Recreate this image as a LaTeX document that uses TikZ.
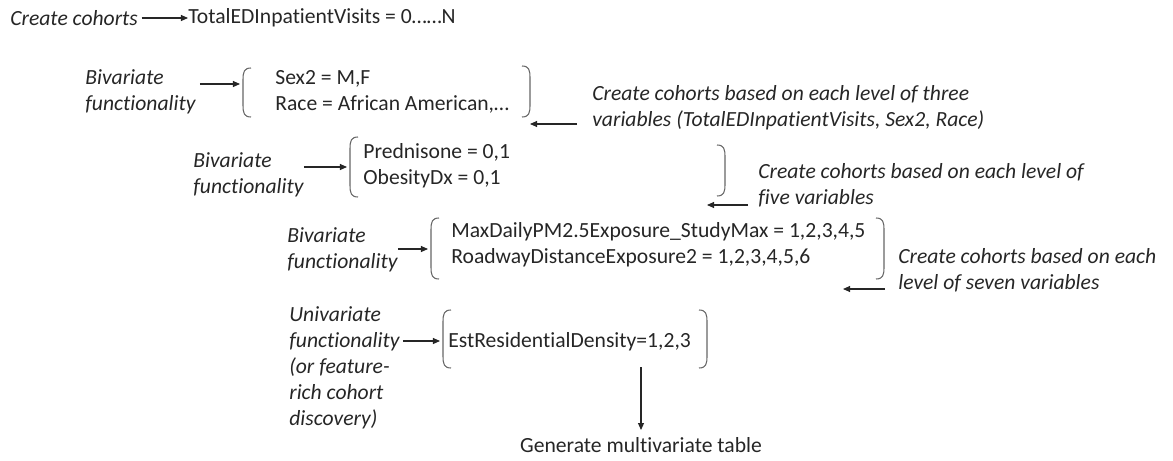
\documentclass[tikz,border=0pt]{standalone}
\usepackage{fontspec}
\setmainfont{Carlito}[Ligatures=NoCommon]
\usetikzlibrary{arrows.meta}
\newcommand{\figfont}{\fontsize{12.3}{14.8}\selectfont}
\tikzset{
	lbl/.style={anchor=west,inner sep=0pt,align=left,text=black!85,font=\figfont\itshape},
	val/.style={anchor=west,inner sep=0pt,align=left,text=black!85,font=\figfont},
	brk/.style={draw=black!60,line width=0.6pt},
	link/.style={draw=black!85,line width=0.6pt,-{Triangle[length=4pt,width=3.4pt]}},
}
% brackets round a group of values: x, top, bottom
\newcommand{\openbr}[3]{\draw[brk] (#1+8,#2) .. controls (#1+1,#2) and (#1,#2+4) .. (#1,#2+12) -- (#1,#3-12) .. controls (#1,#3-4) and (#1+1,#3) .. (#1+8,#3);}
\newcommand{\closebr}[3]{\draw[brk] (#1-8,#2) .. controls (#1-1,#2) and (#1,#2+4) .. (#1,#2+12) -- (#1,#3-12) .. controls (#1,#3-4) and (#1-1,#3) .. (#1-8,#3);}

\begin{document}
\begin{tikzpicture}[x=0.02cm,y=-0.02cm]
	\useasboundingbox (0,0) rectangle (1173,460);
	
	% first cohorts
	\node[lbl] (cc) at (10,18) {Create cohorts};
	\node[val] (total) at (188,18) {TotalEDInpatientVisits = 0……N};
	\draw[link,shorten <=2pt] (cc) -- (total);
	
	% bivariate: sex and race
	\node[lbl] (biv1) at (85,92) {Bivariate\\functionality};
	\node[val] (grp1) at (275,92) {Sex2 = M,F\\Race = African American,…};
	\openbr{243}{68}{117}
	\closebr{530}{66}{117}
	\coordinate (in1) at (240,84);
	\draw[link,shorten <=0.08cm] (biv1.east |- in1) -- (in1);
	
	\node[lbl] (note1) at (592,108) {Create cohorts based on each level of three\\variables (TotalEDInpatientVisits, Sex2, Race)};
	\coordinate (out1) at (530,124);
	\draw[link,shorten <=0.3cm] (note1.west |- out1) -- (out1);
	
	% bivariate: prednisone and obesity
	\node[lbl] (biv2) at (193,175) {Bivariate\\functionality};
	\node[val] (grp2) at (363,166) {Prednisone = 0,1\\ObesityDx = 0,1};
	\openbr{350}{137}{197}
	\closebr{725}{145}{196}
	\coordinate (in2) at (347,167);
	\draw[link] (biv2.east |- in2) -- (in2);
	
	\node[lbl] (note2) at (758,185) {Create cohorts based on each level of\\five variables};
	\coordinate (out2) at (707,205);
	\draw[link,shorten <=0.2cm] (note2.west |- out2) -- (out2);
	
	% bivariate: exposures
	\node[lbl] (biv3) at (287,250) {Bivariate\\functionality};
	\node[val] (grp3) at (451,245) {MaxDailyPM2.5Exposure\_StudyMax = 1,2,3,4,5\\RoadwayDistanceExposure2 = 1,2,3,4,5,6};
	\openbr{431}{218}{279}
	\closebr{884}{218}{279}
	\coordinate (in3) at (428,249);
	\draw[link] (biv3.east |- in3) -- (in3);
	
	\node[lbl] (note3) at (898,270) {Create cohorts based on each\\level of seven variables};
	\coordinate (out3) at (843,289);
	\draw[link,shorten <=0.26cm] (note3.west |- out3) -- (out3);
	
	% univariate
	\node[lbl] (uni) at (289,368) {Univariate\\functionality\\(or feature-\\rich cohort\\discovery)};
	\node[val] (grp4) at (448,342) {EstResidentialDensity=1,2,3};
	\openbr{443}{310}{368}
	\closebr{707}{310}{368}
	\coordinate (in4) at (440,341);
	\draw[link,shorten <=0.06cm] (uni.east |- in4) -- (in4);
	
	% final table
	\node[val,anchor=center] (gen) at (641,445) {Generate multivariate table};
	\coordinate (down) at (641,367);
	\draw[link,shorten >=4pt] (down) -- (gen.north);
	
\end{tikzpicture}
\end{document}
